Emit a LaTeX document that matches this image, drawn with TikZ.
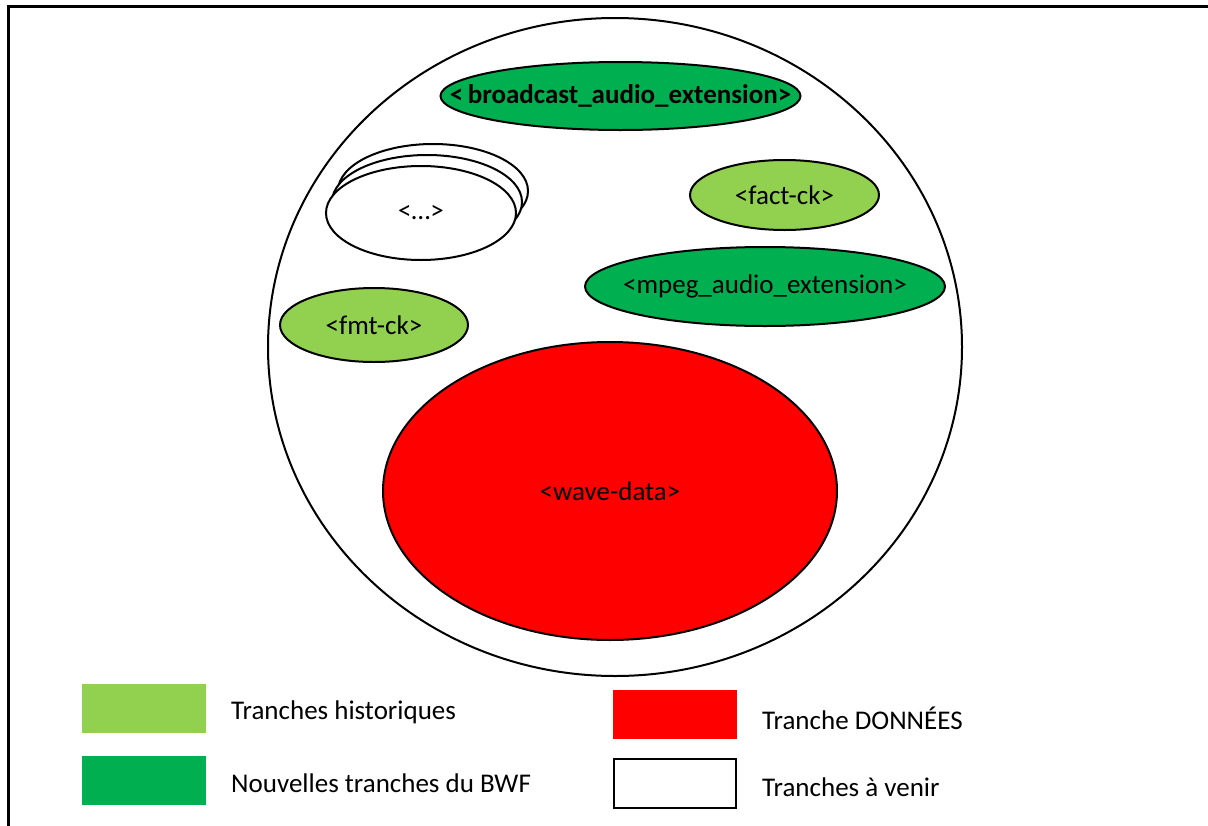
\documentclass[tikz,border=0pt]{standalone}
\usepackage{fontspec}
\setmainfont{Carlito}
\usetikzlibrary{shapes.geometric}
\definecolor{histgreen}{HTML}{92D050}
\definecolor{bwfgreen}{HTML}{00B050}
\definecolor{datared}{HTML}{FF0000}
\begin{document}
\begin{tikzpicture}[x=1pt,y=-1pt,
  chunk/.style={ellipse, draw=black, line width=2pt, inner sep=0pt,
    label={[font=\fontsize{27}{32}\selectfont, inner sep=0pt]center:#1}},
  chunk/.default={},
  legendbox/.style={minimum width=124pt, minimum height=49pt, inner sep=0pt},
  legendtext/.style={anchor=west, inner sep=0pt, font=\fontsize{27}{32}\selectfont}]
\useasboundingbox (0,0) rectangle (1208,825);
\begin{scope}
  \clip (0,0) rectangle (1208,825);
  % outer frame, open at right and bottom
  \draw[line width=3pt] (8,900) -- (8,6) -- (1300,6);
\end{scope}
% container
\node[chunk, minimum width=694pt, minimum height=658pt] (riff) at (615,347) {};
% chunks
\node[chunk={\bfseries <\,broadcast\_audio\_extension>}, fill=bwfgreen,
  minimum width=360pt, minimum height=68pt] (bext) at (620.5,96) {};
\node[chunk={<fact-ck>}, fill=histgreen, minimum width=189pt, minimum height=70pt] (fact) at (784.5,195) {};
\node[chunk={<mpeg\_audio\_extension>}, fill=bwfgreen, minimum width=360pt, minimum height=79pt] (mpeg) at (765,286.5) {};
\node[chunk={<fmt-ck>}, fill=histgreen, minimum width=188pt, minimum height=74pt] (fmt) at (374,325) {};
\node[chunk={<wave-data>}, fill=datared, minimum width=454pt, minimum height=298pt] (wave) at (610,491) {};
% stack of future chunks
\node[chunk, fill=white, minimum width=190pt, minimum height=94pt] (futc) at (433,191) {};
\node[chunk, fill=white, minimum width=190pt, minimum height=94pt] (futb) at (427,202) {};
\node[chunk={\raisebox{-3pt}{<…>}}, fill=white, minimum width=190pt, minimum height=94pt] (futa) at (421,213) {};
% legend
\node[legendbox, fill=histgreen] (lg1) at (144,708) {};
\node[legendtext] (lt1) at (231,712) {Tranches historiques};
\node[legendbox, fill=bwfgreen] (lg2) at (144,780) {};
\node[legendtext] (lt2) at (231,783) {Nouvelles tranches du BWF};
\node[legendbox, fill=datared] (lg3) at (674.5,714) {};
\node[legendtext] (lt3) at (762,718) {Tranche DONNÉES};
\node[legendbox, draw=black, line width=2pt, minimum width=122pt] (lg4) at (675,783.5) {};
\node[legendtext] (lt4) at (762,787) {Tranches à venir};
\end{tikzpicture}
\end{document}
